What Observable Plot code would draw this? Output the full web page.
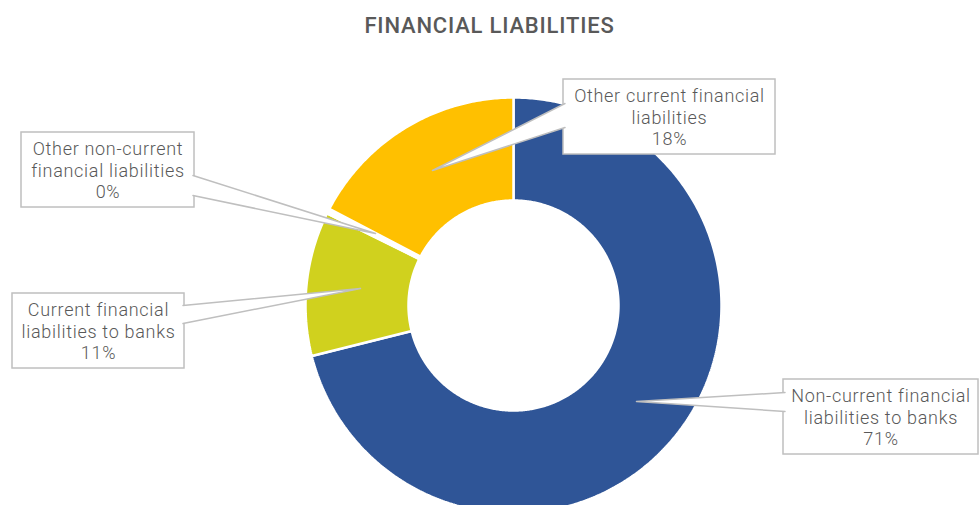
<!DOCTYPE html>
<html>
<head>
<meta charset="utf-8">
<script src="https://cdn.jsdelivr.net/npm/d3@7"></script>
<script src="https://cdn.jsdelivr.net/npm/@observablehq/plot@0.6"></script>
<style>
  html, body { margin: 0; padding: 0; background: #fff; overflow: hidden; width: 979px; height: 505px; }
  #title { height: 50px; line-height: 52px; text-align: center; font-family: Roboto, sans-serif; font-size: 22px; font-weight: 500; letter-spacing: 0.8px; color: #595959; }
  #chart svg { display: block; }
</style>
</head>
<body>
<div id="title">FINANCIAL LIABILITIES</div>
<div id="chart"></div>
<script>
// ---- data ----
const categories = [
  "Non-current financial liabilities to banks",
  "Current financial liabilities to banks",
  "Other non-current financial liabilities",
  "Other current financial liabilities"
];
const values = [71.1, 11.2, 0.4, 17.3];
const percentLabels = ["71%", "11%", "0%", "18%"];
const labelLines = [
  ["Non-current financial", "liabilities to banks"],
  ["Current financial", "liabilities to banks"],
  ["Other non-current", "financial liabilities"],
  ["Other current financial", "liabilities"]
];
const colors = ["#2F5597", "#D0D11E", "#FFFFFF", "#FFC000"];

// ---- layout (page pixels) ----
const W = 979, TITLE_H = 50, H = 505 - TITLE_H;
const center = {x: 513, y: 305 - TITLE_H};
const Rout = 208, Rin = 105;
// callout boxes [x1, y1, x2, y2] (page coords), wedge base on box edge and tip
const boxes = [
  {x1: 783, y1: 379, x2: 978, y2: 454, b1: [783, 392], b2: [783, 411], tip: [636, 401]},
  {x1: 12, y1: 293, x2: 184, y2: 368, b1: [184, 305], b2: [184, 323], tip: [360, 288]},
  {x1: 21, y1: 132, x2: 194, y2: 207, b1: [194, 175], b2: [194, 195], tip: [375, 233]},
  {x1: 563, y1: 79, x2: 775, y2: 154, b1: [563, 103], b2: [563, 127], tip: [432, 170]}
];

// ---- slice polygons from values ----
const total = d3.sum(values);
let acc = 0;
const slices = values.map((v, i) => {
  const a0 = acc / total * 2 * Math.PI;
  acc += v;
  const a1 = acc / total * 2 * Math.PI;
  const n = Math.max(2, Math.ceil((a1 - a0) / 0.01));
  const pts = [];
  for (let k = 0; k <= n; k++) {
    const a = a0 + (a1 - a0) * k / n;
    pts.push({x: center.x + Rout * Math.sin(a), y: center.y - Rout * Math.cos(a)});
  }
  for (let k = n; k >= 0; k--) {
    const a = a0 + (a1 - a0) * k / n;
    pts.push({x: center.x + Rin * Math.sin(a), y: center.y - Rin * Math.cos(a)});
  }
  return {name: categories[i], color: colors[i], pts};
});

const boxData = boxes.map((b, i) => ({
  x1: b.x1, x2: b.x2, y1: b.y1 - TITLE_H, y2: b.y2 - TITLE_H,
  cx: (b.x1 + b.x2) / 2, cy: (b.y1 + b.y2) / 2 - TITLE_H - 0.5,
  text: labelLines[i].concat([percentLabels[i]]).join("\n")
}));
const wedges = boxes.map(b => {
  const inset = b.b1[0] === b.x1 ? 1.5 : -1.5;
  return [
    {x: b.b1[0] + inset, y: b.b1[1] - TITLE_H},
    {x: b.tip[0], y: b.tip[1] - TITLE_H},
    {x: b.b2[0] + inset, y: b.b2[1] - TITLE_H}
  ];
});

const marks = [];
slices.forEach(s => {
  marks.push(Plot.line(s.pts, {x: "x", y: "y", fill: s.color, stroke: "white", strokeWidth: 2.5, curve: "linear-closed", strokeLinejoin: "miter"}));
});
marks.push(Plot.rect(boxData, {x1: "x1", x2: "x2", y1: "y1", y2: "y2", fill: "white", stroke: "#BFBFBF", strokeWidth: 1.5}));
wedges.forEach(w => {
  marks.push(Plot.line(w, {x: "x", y: "y", fill: "white", stroke: "#BFBFBF", strokeWidth: 1.5}));
});
marks.push(Plot.text(boxData, {x: "cx", y: "cy", text: "text", fill: "#595959", fontSize: 18, fontWeight: 300, lineHeight: 1.22, fontFamily: "Roboto, sans-serif", textAnchor: "middle"}));

const chart = Plot.plot({
  width: W, height: H,
  margin: 0,
  x: {domain: [0, W], range: [0, W], axis: null},
  y: {domain: [0, H], range: [0, H], axis: null},
  style: {background: "white", overflow: "visible", letterSpacing: "0.7px"},
  marks
});
document.getElementById("chart").appendChild(chart);
</script>
</body>
</html>
